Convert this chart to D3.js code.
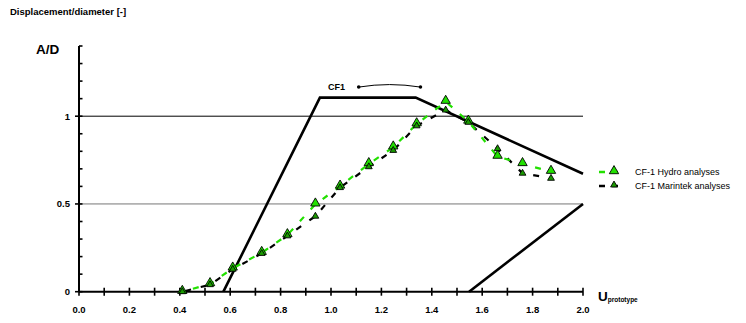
<!DOCTYPE html>
<html><head><meta charset="utf-8">
<script src="https://cdn.jsdelivr.net/npm/d3@7"></script>
<style>body{margin:0;background:#fff}svg{display:block;font-family:"Liberation Sans",Arial,sans-serif}</style>
</head><body><svg id="c" width="746" height="323"></svg>
<script>
const xTicks = [0.0,0.2,0.4,0.6,0.8,1.0,1.2,1.4,1.6,1.8,2.0];
const yTickLabels = [[0,"0"],[0.5,"0.5"],[1,"1"]];
const gridValues = [0.5, 1];
const hydroX = [0.41,0.52,0.61,0.725,0.827,0.938,1.036,1.15,1.247,1.34,1.455,1.545,1.661,1.76,1.873];
const hydroY = [0.0,0.044,0.133,0.222,0.323,0.498,0.600,0.728,0.823,0.955,1.083,0.970,0.770,0.728,0.684];
const marX = [0.41,0.52,0.61,0.725,0.827,0.938,1.036,1.15,1.247,1.34,1.455,1.545,1.661,1.76,1.873];
const marY = [0.0,0.040,0.128,0.218,0.318,0.430,0.593,0.712,0.805,0.945,1.035,0.965,0.815,0.675,0.646];
const envX1 = [0.573,0.956,1.336,2.0];
const envY1 = [0,1.106,1.106,0.672];
const envX2 = [1.548,2.0];
const envY2 = [0,0.5];
const seriesNames = ["CF-1 Hydro analyses","CF-1 Marintek analyses"];

const svg = d3.select("#c");
const x = d3.scaleLinear().domain([0,2]).range([79,583]);
const y = d3.scaleLinear().domain([0,1.4]).range([291.7,46]);

svg.append("text").attr("x",10).attr("y",15).attr("font-size",9.5).attr("font-weight","bold").text("Displacement/diameter [-]");
svg.append("text").attr("x",36).attr("y",54).attr("font-size",13.5).attr("font-weight","bold").text("A/D");

// grid
svg.selectAll(".grid").data(gridValues).enter().append("line")
  .attr("x1",x(0)).attr("x2",x(2)).attr("y1",d=>y(d)).attr("y2",d=>y(d))
  .attr("stroke",d=>d===1?"#000":"#777").attr("stroke-width",1);

// envelope
const line = d3.line().x(d=>x(d[0])).y(d=>y(d[1]));
svg.append("path").attr("d",line(envX1.map((v,i)=>[v,envY1[i]]))).attr("fill","none").attr("stroke","#000").attr("stroke-width",2.6);
svg.append("path").attr("d",line(envX2.map((v,i)=>[v,envY2[i]]))).attr("fill","none").attr("stroke","#000").attr("stroke-width",2.6);

// CF1 annotation
svg.append("text").attr("x",328).attr("y",90).attr("font-size",9).attr("font-weight","bold").text("CF1");
const ax1 = 1.11, ax2 = 1.355, ayv = 1.166;
svg.append("path").attr("d",`M${x(ax1)},${y(ayv)} Q${(x(ax1)+x(ax2))/2},${y(ayv)-5} ${x(ax2)},${y(ayv)}`).attr("fill","none").attr("stroke","#000").attr("stroke-width",1);
[ax1,ax2].forEach(v=>svg.append("circle").attr("cx",x(v)).attr("cy",y(ayv)).attr("r",1.8).attr("fill","#000"));

// axes
const xAxis = svg.append("g");
xAxis.append("line").attr("x1",x(0)).attr("x2",x(2)).attr("y1",y(0)).attr("y2",y(0)).attr("stroke","#000").attr("stroke-width",2);
const xMinor = d3.range(0,21).map(i=>i/10);
xAxis.selectAll(".xt").data(xMinor).enter().append("line")
  .attr("x1",d=>x(d)).attr("x2",d=>x(d)).attr("y1",y(0)-4).attr("y2",y(0)+4).attr("stroke","#000").attr("stroke-width",1.6);
xAxis.selectAll(".xl").data(xTicks).enter().append("text")
  .attr("x",d=>x(d)).attr("y",313).attr("text-anchor","middle").attr("font-size",9.5).attr("font-weight","bold").text(d=>d.toFixed(1));

const yAxis = svg.append("g");
yAxis.append("line").attr("x1",x(0)).attr("x2",x(0)).attr("y1",y(0)).attr("y2",y(1.4)).attr("stroke","#000").attr("stroke-width",2);
const yMinor = d3.range(0,15).map(i=>i/10);
yAxis.selectAll(".yt").data(yMinor).enter().append("line")
  .attr("x1",d=>(Math.abs(d-Math.round(d*2)/2)<1e-9)?x(0)-4:x(0)).attr("x2",x(0)+3.5).attr("y1",d=>y(d)).attr("y2",d=>y(d)).attr("stroke","#000").attr("stroke-width",1.6);
yAxis.selectAll(".yl").data(yTickLabels).enter().append("text")
  .attr("x",70).attr("y",d=>y(d[0])+3.5).attr("text-anchor","end").attr("font-size",9.5).attr("font-weight","bold").text(d=>d[1]);

const ut = svg.append("text").attr("x",598).attr("y",301).attr("font-weight","bold");
ut.append("tspan").attr("font-size",13.5).text("U");
ut.append("tspan").attr("font-size",6.5).attr("dy",1).text("prototype");

// series
const hydro = hydroX.map((v,i)=>[v,hydroY[i]]);
const mar = marX.map((v,i)=>[v,marY[i]]);
svg.append("path").attr("d",line(mar)).attr("fill","none").attr("stroke","#000").attr("stroke-width",2.2).attr("stroke-dasharray","6,10").attr("stroke-dashoffset",-3);
svg.append("path").attr("d",line(hydro)).attr("fill","none").attr("stroke","#22e000").attr("stroke-width",2.2).attr("stroke-dasharray","6,10").attr("stroke-dashoffset",5);

const triBig = d3.symbol().type(d3.symbolTriangle).size(38);
const triSmall = d3.symbol().type(d3.symbolTriangle).size(20);
svg.selectAll(".mh").data(hydro).enter().append("path").attr("d",triBig)
  .attr("transform",d=>`translate(${x(d[0])},${y(d[1])-1})`).attr("fill","#22e000").attr("stroke","#000").attr("stroke-width",0.9);
svg.selectAll(".mm").data(mar).enter().append("path").attr("d",triSmall)
  .attr("transform",d=>`translate(${x(d[0])},${y(d[1])})`).attr("fill","#1a9a00").attr("stroke","#000").attr("stroke-width",0.9);

// legend
const lg = svg.append("g");
[[172,"#22e000",triBig,"#22e000"],[186,"#000",triSmall,"#1a9a00"]].forEach((r,i)=>{
  lg.append("line").attr("x1",599).attr("x2",625).attr("y1",r[0]).attr("y2",r[0]).attr("stroke",r[1]).attr("stroke-width",2.4).attr("stroke-dasharray","6,7");
  lg.append("path").attr("d",r[2]).attr("transform",`translate(614,${r[0]-1})`).attr("fill",r[3]).attr("stroke","#000").attr("stroke-width",0.9);
  lg.append("text").attr("x",635).attr("y",r[0]+3).attr("font-size",9).text(seriesNames[i]);
});
</script></body></html>
